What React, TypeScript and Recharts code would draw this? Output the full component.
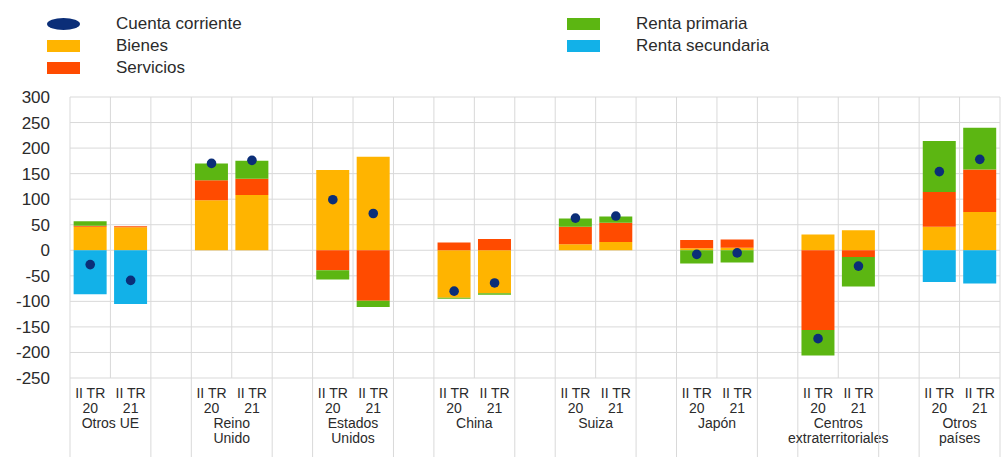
import React from "react";
import { Bar, CartesianGrid, ComposedChart, Line, XAxis, YAxis } from "recharts";

const groups = [
  ["Otros UE"],
  ["Reino", "Unido"],
  ["Estados", "Unidos"],
  ["China"],
  ["Suiza"],
  ["Japón"],
  ["Centros", "extraterritoriales"],
  ["Otros", "países"],
];

const periods = [
  ["II TR", "20"],
  ["II TR", "21"],
];

// two values per group: II TR 20, II TR 21
const bienes = [46, 45, 98, 108, 157, 183, -93, -84, 12, 16, 4, 5, 31, 39, 46, 75];
const servicios = [2, 2, 39, 32, -39, -99, 15, 22, 34, 38, 16, 16, -156, -13, 68, 83];
const rentaPrimaria = [9, 0, 33, 35, -18, -12, -2, -3, 16, 12, -26, -24, -50, -58, 100, 82];
const rentaSecundaria = [-86, -105, 0, 0, 0, 0, 0, 0, 0, 0, 0, 0, 0, 0, -62, -65];
const cuentaCorriente = [-28, -59, 170, 176, 99, 72, -80, -64, 63, 67, -8, -5, -173, -31, 154, 178];

const yTicks = [300, 250, 200, 150, 100, 50, 0, -50, -100, -150, -200, -250];

const series = [
  { key: "bienes", name: "Bienes", color: "#FFB400", values: bienes },
  { key: "servicios", name: "Servicios", color: "#FF4B00", values: servicios },
  { key: "primaria", name: "Renta primaria", color: "#5CB612", values: rentaPrimaria },
  { key: "secundaria", name: "Renta secundaria", color: "#12B1E8", values: rentaSecundaria },
];
const dotColor = "#0B2E78";

// build rows: bar, bar, empty slot between groups
const rows: any[] = [];
groups.forEach((lines, g) => {
  periods.forEach((p, s) => {
    const i = g * 2 + s;
    const row: any = { key: `${g}-${s}`, slot: s, period: p, group: lines, cc: cuentaCorriente[i] };
    series.forEach((sr) => (row[sr.key] = sr.values[i]));
    rows.push(row);
  });
  if (g < groups.length - 1) rows.push({ key: `gap-${g}`, gap: true });
});

const W = 1002;
const H = 457;
const LEFT = 70;
const RIGHT = 2;
const AXIS_H = 79;
const BAND = (W - LEFT - RIGHT) / rows.length;
const FONT = "'Liberation Sans', Arial, sans-serif";
const TXT = "#2b2b2b";

function CategoryTick(props: any) {
  const { x, y, index } = props;
  const row = rows[index];
  if (!row || row.gap) return null;
  const half = BAND / 2;
  const edge = row.slot === 0 ? x - half : x + half;
  return (
    <g fontFamily={FONT} fontSize={14} fill={TXT}>
      <line x1={edge} x2={edge} y1={y} y2={H} stroke="#d9d9d9" />
      <text x={x} y={y + 20} textAnchor="middle">{row.period[0]}</text>
      <text x={x} y={y + 35} textAnchor="middle">{row.period[1]}</text>
      {row.slot === 0 &&
        row.group.map((l: string, i: number) => (
          <text key={i} x={x + half} y={y + 50 + i * 15} textAnchor="middle">
            {l}
          </text>
        ))}
    </g>
  );
}

function LegendItem({ name, color, dot }: { name: string; color: string; dot?: boolean }) {
  return (
    <div style={{ display: "flex", alignItems: "center", height: 22 }}>
      <span
        style={{
          display: "inline-block",
          width: 33,
          height: 12,
          background: color,
          borderRadius: dot ? "50%" : 0,
          marginRight: 36,
        }}
      />
      <span style={{ fontSize: 17, color: TXT }}>{name}</span>
    </div>
  );
}

export default function App() {
  return (
    <div style={{ position: "absolute", left: 0, top: 0, width: W, height: H, background: "#fff", fontFamily: FONT }}>
      <div style={{ position: "absolute", left: 47, top: 13 }}>
        <LegendItem name="Cuenta corriente" color={dotColor} dot />
        <LegendItem name={series[0].name} color={series[0].color} />
        <LegendItem name={series[1].name} color={series[1].color} />
      </div>
      <div style={{ position: "absolute", left: 567, top: 13 }}>
        <LegendItem name={series[2].name} color={series[2].color} />
        <LegendItem name={series[3].name} color={series[3].color} />
      </div>
      <ComposedChart
        width={W}
        height={H}
        data={rows}
        stackOffset="sign"
        barCategoryGap="9%"
        margin={{ top: 97, right: RIGHT, bottom: 0, left: 0 }}
      >
        <CartesianGrid
          stroke="#d9d9d9"
          verticalCoordinatesGenerator={({ offset }: any) =>
            Array.from({ length: rows.length + 1 }, (_, i) => offset.left + (i * offset.width) / rows.length)
          }
        />
        <XAxis
          dataKey="key"
          interval={0}
          height={AXIS_H}
          tickSize={0}
          tickMargin={0}
          axisLine={false}
          tickLine={false}
          tick={CategoryTick}
        />
        <YAxis
          width={LEFT}
          domain={[-250, 300]}
          ticks={yTicks}
          interval={0}
          axisLine={false}
          tickLine={false}
          tickSize={0}
          tickMargin={20}
          tick={{ fontSize: 17, fill: TXT, fontFamily: FONT }}
        />
        {series.map((s) => (
          <Bar key={s.key} dataKey={s.key} name={s.name} stackId="a" fill={s.color} isAnimationActive={false} />
        ))}
        <Line
          dataKey="cc"
          name="Cuenta corriente"
          stroke="none"
          dot={{ r: 4.8, fill: dotColor, stroke: "none" }}
          activeDot={false}
          isAnimationActive={false}
        />
      </ComposedChart>
    </div>
  );
}
